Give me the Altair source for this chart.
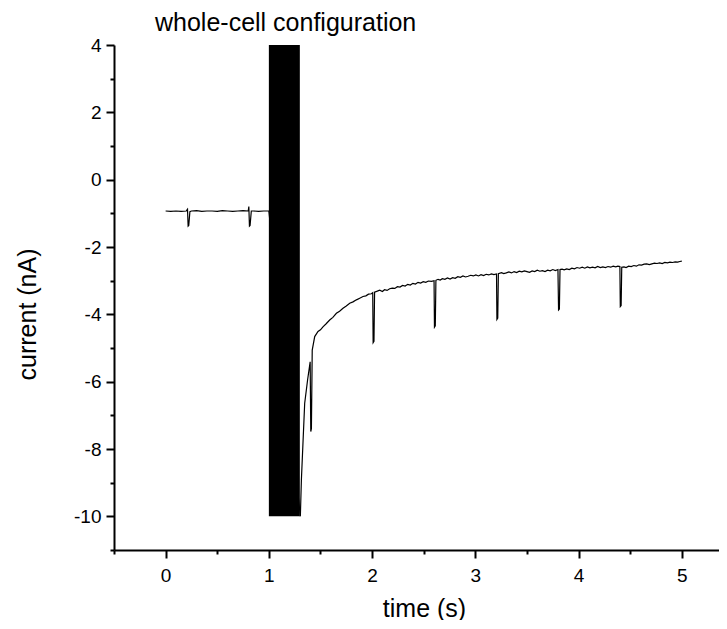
import altair as alt
import pandas as pd

# pre-break-in (cell-attached) trace
t_pre = [0.00, 0.05, 0.10, 0.15, 0.20, 0.212, 0.218, 0.224, 0.235, 0.25, 0.30, 0.35, 0.40,
         0.45, 0.50, 0.55, 0.60, 0.65, 0.70, 0.75, 0.80, 0.806, 0.812, 0.818, 0.83, 0.85,
         0.90, 0.95, 1.00]
i_pre = [-0.93, -0.94, -0.93, -0.94, -0.93, -0.88, -1.38, -1.36, -0.95, -0.93, -0.92, -0.94,
         -0.93, -0.93, -0.94, -0.92, -0.93, -0.94, -0.93, -0.92, -0.93, -0.80, -1.38, -1.36,
         -0.93, -0.93, -0.94, -0.93, -0.93]

# whole-cell trace
t_post = [1.305, 1.315, 1.347, 1.375, 1.400, 1.406, 1.412, 1.420, 1.444, 1.476, 1.50, 1.524,
          1.555, 1.589, 1.62, 1.654, 1.685, 1.718, 1.75, 1.783, 1.815, 1.848, 1.88, 1.912,
          1.94, 1.965, 1.993, 2.006, 2.010, 2.018, 2.024, 2.05, 2.074, 2.10, 2.12, 2.145,
          2.17, 2.195, 2.22, 2.245, 2.27, 2.295, 2.32, 2.345, 2.37, 2.395, 2.42, 2.445,
          2.47, 2.495, 2.52, 2.545, 2.575, 2.600, 2.604, 2.612, 2.618, 2.639, 2.66, 2.68,
          2.705, 2.73, 2.755, 2.78, 2.805, 2.83, 2.855, 2.88, 2.905, 2.93, 2.955, 2.98,
          3.005, 3.03, 3.055, 3.08, 3.105, 3.13, 3.155, 3.18, 3.205, 3.209, 3.217, 3.223,
          3.253, 3.275, 3.30, 3.325, 3.35, 3.375, 3.40, 3.425, 3.45, 3.475, 3.50, 3.525,
          3.55, 3.575, 3.60, 3.625, 3.65, 3.675, 3.70, 3.725, 3.75, 3.775, 3.800, 3.806,
          3.814, 3.820, 3.84, 3.86, 3.885, 3.91, 3.935, 3.96, 3.985, 4.01, 4.035, 4.06,
          4.085, 4.11, 4.135, 4.16, 4.185, 4.21, 4.235, 4.26, 4.285, 4.31, 4.335, 4.36,
          4.38, 4.400, 4.404, 4.412, 4.418, 4.44, 4.46, 4.485, 4.51, 4.535, 4.56, 4.585,
          4.61, 4.635, 4.66, 4.685, 4.71, 4.735, 4.76, 4.785, 4.81, 4.835, 4.86, 4.885,
          4.91, 4.935, 4.96, 4.98, 5.00]
i_post = [-10.0, -8.92, -6.64, -5.95, -5.41, -7.48, -7.40, -5.06, -4.66, -4.51, -4.46, -4.37,
          -4.28, -4.17, -4.09, -3.97, -3.91, -3.82, -3.75, -3.67, -3.63, -3.57, -3.52, -3.47,
          -3.45, -3.40, -3.39, -3.36, -4.84, -4.80, -3.34, -3.31, -3.28, -3.32, -3.27, -3.29,
          -3.24, -3.22, -3.23, -3.18, -3.19, -3.14, -3.16, -3.11, -3.13, -3.08, -3.10, -3.05,
          -3.07, -3.03, -3.05, -3.01, -3.02, -3.00, -4.38, -4.34, -2.99, -2.96, -2.98, -2.94,
          -2.96, -2.92, -2.95, -2.91, -2.93, -2.88, -2.90, -2.86, -2.89, -2.87, -2.84, -2.86,
          -2.83, -2.86, -2.82, -2.85, -2.81, -2.83, -2.80, -2.82, -2.80, -4.15, -4.11, -2.79,
          -2.76, -2.79, -2.77, -2.74, -2.77, -2.73, -2.76, -2.72, -2.74, -2.71, -2.73, -2.75,
          -2.71, -2.73, -2.69, -2.72, -2.70, -2.73, -2.69, -2.71, -2.67, -2.70, -2.67, -3.87,
          -3.84, -2.67, -2.66, -2.68, -2.65, -2.67, -2.63, -2.65, -2.61, -2.63, -2.60, -2.63,
          -2.59, -2.62, -2.60, -2.62, -2.58, -2.61, -2.59, -2.61, -2.58, -2.60, -2.57, -2.59,
          -2.57, -2.58, -3.77, -3.74, -2.60, -2.59, -2.61, -2.57, -2.58, -2.55, -2.57, -2.53,
          -2.54, -2.51, -2.50, -2.52, -2.50, -2.48, -2.49, -2.47, -2.49, -2.46, -2.47, -2.45,
          -2.46, -2.44, -2.45, -2.43, -2.42]

# perfusion / break-in artefact block
bar_t0 = [1.0]
bar_t1 = [1.3]
bar_lo = [-10.0]
bar_hi = [4.0]

trace = pd.DataFrame({"t": t_pre + t_post, "i": i_pre + i_post})
block = pd.DataFrame({"t0": bar_t0, "t1": bar_t1, "lo": bar_lo, "hi": bar_hi})

x_ticks = [v / 2 for v in range(-1, 11)]
y_ticks = [float(v) for v in range(-11, 5)]

FONT = "Liberation Sans"

xscale = alt.Scale(domain=[-0.5, 5.36], nice=False, zero=False)
yscale = alt.Scale(domain=[-11, 4], nice=False, zero=False)

xaxis = alt.Axis(
    values=x_ticks, grid=False, title="time (s)",
    labelExpr="(datum.value % 1 == 0) ? toString(datum.value) : ''",
    tickSize=alt.ExprRef("(datum.value % 1 == 0) ? 8 : 4"),
    labelOverlap=False, labelFlush=False, labelBound=False,
    labelPadding=8, labelFontSize=19, titleFontSize=25,
    titleX=310, titleY=58, titleBaseline="middle", titleAlign="center",
)
yaxis = alt.Axis(
    values=y_ticks, grid=False, title="current (nA)",
    labelExpr="(abs(datum.value) % 2 == 0) ? toString(datum.value) : ''",
    tickSize=alt.ExprRef("(abs(datum.value) % 2 == 0) ? 8 : 4"),
    labelOverlap=False, labelFlush=False, labelBound=False,
    labelPadding=5, labelFontSize=19, titleFontSize=25,
    titleX=-87, titleY=269, titleBaseline="middle", titleAlign="center",
)

line = alt.Chart(trace).mark_line(color="black", strokeWidth=1.2, clip=True).encode(
    x=alt.X("t:Q", scale=xscale, axis=xaxis),
    y=alt.Y("i:Q", scale=yscale, axis=yaxis),
)
rect = alt.Chart(block).mark_rect(color="black").encode(
    x=alt.X("t0:Q", scale=xscale, axis=xaxis),
    x2="t1:Q",
    y=alt.Y("lo:Q", scale=yscale, axis=yaxis),
    y2="hi:Q",
)

chart = (line + rect).properties(
    width=605,
    height=505,
    autosize=alt.AutoSizeParams(type="none"),
    padding={"left": 106, "top": 37, "right": 0, "bottom": 70},
    title=alt.TitleParams(
        "whole-cell configuration", anchor="start", frame="group", dx=41,
        offset=-20, fontSize=25, font=FONT, fontWeight="normal", color="black",
        baseline="alphabetic",
    ),
).configure_view(stroke=None).configure_axis(
    labelFont=FONT, titleFont=FONT, labelColor="black", titleColor="black",
    domainColor="black", tickColor="black", domainWidth=2, tickWidth=2,
    titleFontWeight="normal",
)

chart.save("out.html", embed_options={"renderer": "svg", "actions": False})
